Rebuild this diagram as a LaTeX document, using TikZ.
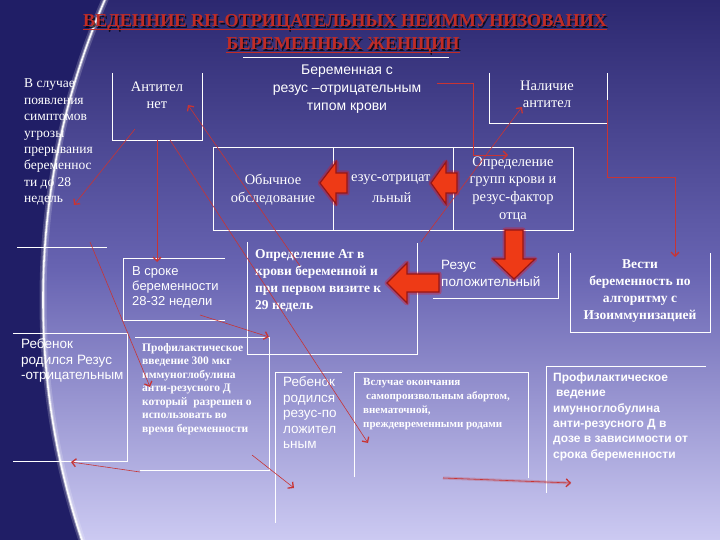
\documentclass[tikz,border=0pt]{standalone}
\usepackage{fontspec}
\setmainfont{Liberation Serif}
\newfontfamily\sansf{Liberation Sans}
\usetikzlibrary{arrows.meta,calc}
\newcommand\fs{\rule{0pt}{0.75em}}
\definecolor{bgtop}{RGB}{44,40,112}
\definecolor{bgmid}{RGB}{104,100,178}
\definecolor{bgbot}{RGB}{204,202,242}
\definecolor{darkside}{RGB}{32,30,102}
\definecolor{conn}{RGB}{200,52,52}
\definecolor{ttl}{RGB}{192,44,38}
\definecolor{blkfill}{RGB}{238,58,22}
\definecolor{blkedge}{RGB}{150,22,22}
\begin{document}
\begin{tikzpicture}[x=1pt,y=-1pt,
  wl/.style={draw=white, line width=0.8pt},
  rl/.style={draw=conn, line width=0.6pt, -{Straight Barb[length=4pt,width=8pt,line width=1.3pt]}},
  ltx/.style={text=white, inner sep=0pt},
  ser/.style={font=\fontsize{14.5}{17.5}\selectfont},
  san/.style={font=\sansf\fontsize{13.5}{15.5}\selectfont},
  bsr/.style={font=\bfseries\fontsize{13.5}{17}\selectfont},
  barrow/.style={fill=blkfill, draw=blkedge, line width=1.2pt, line join=miter},
  glow/.style={draw=red, line width=5pt, opacity=0.3, line join=round},
  ttlst/.style={inner sep=0pt, font=\bfseries\fontsize{18.2}{22}\selectfont}
]
\useasboundingbox (0,0) rectangle (720,540);
% background
\shade[top color=bgtop, bottom color=bgbot, middle color=bgmid] (0,0) rectangle (720,540);
\begin{scope}
\clip (0,0) rectangle (720,540);
\fill[darkside, even odd rule] (-10,-10) rectangle (730,550) (800,300) circle[radius=757pt];
\draw[white, line width=7pt, opacity=0.18] (800,300) circle[radius=757pt];
\draw[white, line width=3.5pt, opacity=0.35] (800,300) circle[radius=757pt];
\draw[white, line width=1.6pt, opacity=0.95] (800,300) circle[radius=757pt];
\end{scope}

% title
\node[ttlst, text=black, opacity=0.75, anchor=base] at (346.3,28.3) {ВЕДЕННИЕ RH-ОТРИЦАТЕЛЬНЫХ НЕИММУНИЗОВАНИХ};
\node[ttlst, text=ttl, anchor=base] (t1) at (345,27) {ВЕДЕННИЕ RH-ОТРИЦАТЕЛЬНЫХ НЕИММУНИЗОВАНИХ};
\node[ttlst, text=black, opacity=0.75, anchor=base] at (344.3,51.3) {БЕРЕМЕННЫХ ЖЕНЩИН};
\node[ttlst, text=ttl, anchor=base] (t2) at (343,50) {БЕРЕМЕННЫХ ЖЕНЩИН};
\draw[ttl, line width=0.7pt] ($(t1.base west)+(0,2.2)$) -- ($(t1.base east)+(0,2.2)$);
\draw[ttl, line width=0.7pt] ($(t2.base west)+(0,2.2)$) -- ($(t2.base east)+(0,2.2)$);
\draw[wl] (243,57) -- (449,57);

% boxes (white open frames)
\draw[wl] (112,73) -- (112,140) -- (202,140) -- (202,73);
\draw[wl] (489,73) -- (489,123) -- (607,123) -- (607,73);
\draw[wl] (213,147) rectangle (573,230);
\draw[wl] (333,147) -- (333,230);
\draw[wl] (453,147) -- (453,230);
\draw[wl] (17,247) -- (107,247);
\draw[wl] (225,258) -- (123,258) -- (123,320) -- (225,320);
\draw[wl] (247,242) -- (247,354) -- (417,354) -- (417,243);
\draw[wl] (433,298) -- (558,298) -- (558,253);
\draw[wl] (570,253) -- (570,332) -- (710,332) -- (710,253);
\draw[wl] (13,333) -- (127,333) -- (127,461) -- (13,461);
\draw[wl] (135,337) -- (269,337) -- (269,470) -- (140,470);
\draw[wl] (342,372) -- (275,372) -- (275,523);
\draw[wl] (354,477) -- (354,372) -- (528,372) -- (528,478);
\draw[wl] (706,366) -- (546,366) -- (546,493);

% texts
\node[ltx, ser, font=\fontsize{13.5}{16.4}\selectfont, anchor=north west, align=left] (ltxt) at (24,77.5)
  {\fs В случае\\появления\\симптомов\\угрозы\\прерывания\\беременнос\\ти до 28\\недель};
\node[ltx, ser, anchor=north, align=center] (nonab) at (157,80) {\fs Антител\\нет};
\node[ltx, san, font=\sansf\fontsize{14}{18}\selectfont, anchor=north, align=center] (preg) at (347,63.5)
  {\fs Беременная с\\резус –отрицательным\\типом крови};
\node[ltx, ser, anchor=north, align=center] (yesab) at (547,79) {\fs Наличие\\антител};
\node[ltx, ser, font=\fontsize{14.5}{18}\selectfont, anchor=north, align=center] (exam) at (273,173)
  {\fs Обычное\\обследование};
\node[ltx, ser, anchor=west] (rneg1) at (351,180) {езус-отрицат};
\node[ltx, ser, anchor=west] (rneg2) at (372,198) {льный};
\node[ltx, ser, font=\fontsize{14.5}{17.7}\selectfont, anchor=north, align=center] (grp) at (513,155)
  {\fs Определение\\групп крови и\\резус-фактор\\отца};
\node[ltx, san, font=\sansf\fontsize{13}{15}\selectfont, anchor=north west, align=left] (term) at (132,265.7)
  {\fs В сроке\\беременности\\28-32 недели};
\node[ltx, bsr, anchor=north west, align=left] (atdet) at (255,248.5)
  {\fs Определение Ат в\\крови беременной и\\при первом визите к\\29 недель};
\node[ltx, san, font=\sansf\fontsize{13.5}{17}\selectfont, anchor=north west, align=left] (rpos) at (441,259.5)
  {\fs Резус\\положительный};
\node[ltx, bsr, anchor=north, align=center] (lead) at (640,258.5)
  {\fs Вести\\беременность по\\алгоритму с\\Изоиммунизацией};
\node[ltx, san, anchor=north west, align=left] (childneg) at (21,338.5)
  {\fs Ребенок\\родился Резус\\-отрицательным};
\node[ltx, font=\bfseries\fontsize{11.5}{13.5}\selectfont, anchor=north west, align=left] (prof1) at (142,342.5)
  {\fs Профилактическое\\введение 300 мкг\\иммуноглобулина\\анти-резусного Д\\который\ \ разрешен о\\использовать во\\время беременности};
\node[ltx, san, anchor=north west, align=left] (childpos) at (283,376.5)
  {\fs Ребенок\\родился\\резус-по\\ложител\\ьным};
\node[ltx, font=\bfseries\fontsize{11}{13.7}\selectfont, anchor=north west, align=left] (abort) at (363,377.5)
  {\fs Вслучае окончания\\\hspace{3pt}самопроизвольным абортом,\\внематочной,\\преждевременными родами};
\node[ltx, font=\sansf\bfseries\fontsize{12}{15.4}\selectfont, anchor=north west, align=left] (prof2) at (553,372)
  {\fs Профилактическое\\\hspace{3pt}ведение\\имунноглобулина\\анти-резусного Д в\\дозе в зависимости от\\срока беременности};

% block arrows
\path[glow] (320,183) -- (336,162) -- (336,173) -- (347,173) -- (347,193) -- (336,193) -- (336,204) -- cycle;
\path[barrow] (320,183) -- (336,162) -- (336,173) -- (347,173) -- (347,193) -- (336,193) -- (336,204) -- cycle;
\path[glow] (431,183) -- (446,162) -- (446,173) -- (457,173) -- (457,193) -- (446,193) -- (446,204) -- cycle;
\path[barrow] (431,183) -- (446,162) -- (446,173) -- (457,173) -- (457,193) -- (446,193) -- (446,204) -- cycle;
\path[glow] (505,230) -- (523,230) -- (523,259) -- (535,259) -- (514,279) -- (493,259) -- (505,259) -- cycle;
\path[barrow] (505,230) -- (523,230) -- (523,259) -- (535,259) -- (514,279) -- (493,259) -- (505,259) -- cycle;
\path[glow] (387,283) -- (407,263) -- (407,274) -- (439,274) -- (439,292) -- (407,292) -- (407,303) -- cycle;
\path[barrow] (387,283) -- (407,263) -- (407,274) -- (439,274) -- (439,292) -- (407,292) -- (407,303) -- cycle;

% connector end points
\coordinate (c1s) at (135,129); \coordinate (c1e) at (74,205);
\coordinate (c2s) at (157,140); \coordinate (c2e) at (157,262);
\coordinate (c3s) at (170,140); \coordinate (c3e) at (368,443);
\coordinate (c4s) at (300,266); \coordinate (c4e) at (188,105);
\coordinate (c5s) at (90,242);  \coordinate (c5e) at (150,387);
\coordinate (c6s) at (200,315); \coordinate (c6e) at (269,337);
\coordinate (c7s) at (140,472); \coordinate (c7e) at (71,462);
\coordinate (c8s) at (252,455); \coordinate (c8e) at (294,488);
\coordinate (c9s) at (443,478); \coordinate (c9e) at (571,483);
\coordinate (c10s) at (437,83); \coordinate (c10e) at (508,155);
\coordinate (c11s) at (421,242); \coordinate (c11e) at (522,107);
\coordinate (c12s) at (607,100); \coordinate (c12e) at (675,257);

\draw[rl] (c1s) -- (c1e);
\draw[rl] (c2s) -- (c2e);
\draw[rl] (c3s) -- (c3e);
\draw[rl] (c4s) -- (c4e);
\draw[rl] (c5s) -- (c5e);
\draw[rl] (c6s) -- (c6e);
\draw[rl] (c7s) -- (c7e);
\draw[rl] (c8s) -- (c8e);
\draw[conn, line width=3pt, opacity=0.25] (c9s) -- (c9e);
\draw[rl] (c9s) -- (c9e);
\draw[rl] (c10s) -- (473,83) -- (473,155) -- (c10e);
\draw[rl] (c11s) -- (c11e);
\draw[rl] (c12s) -- (607,177) -- (675,177) -- (c12e);
\end{tikzpicture}
\end{document}
